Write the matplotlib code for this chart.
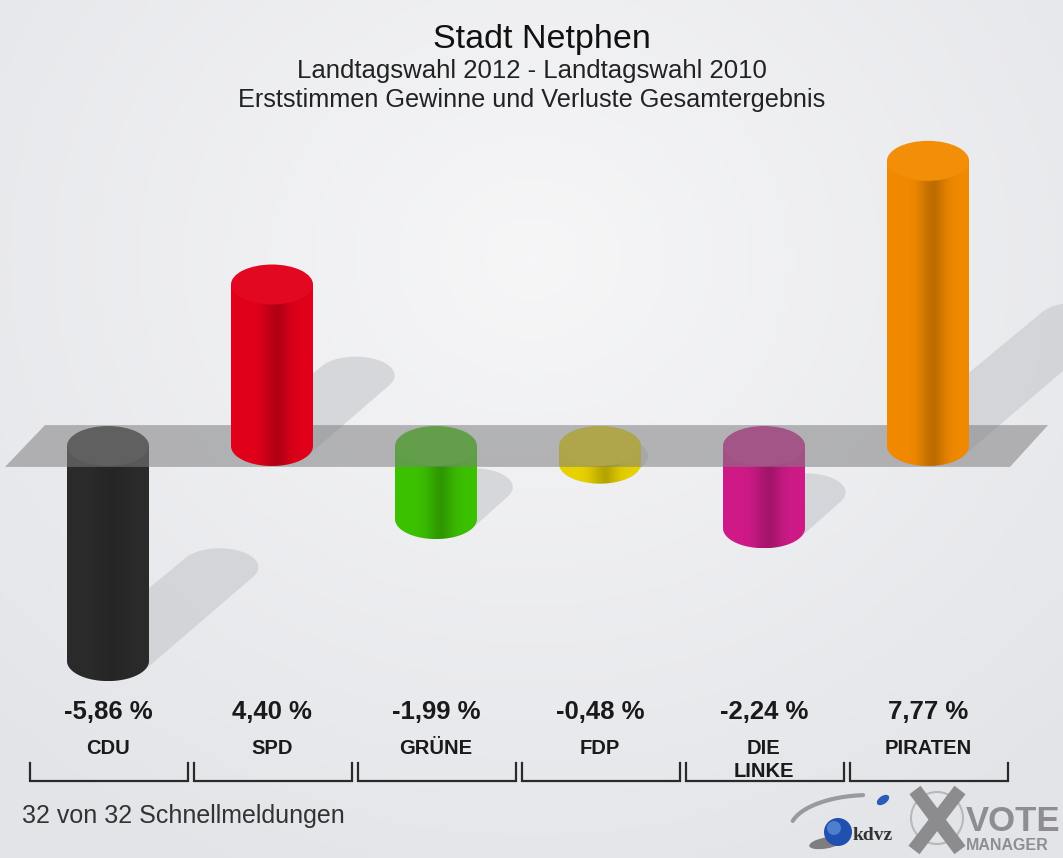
import numpy as np
import matplotlib
matplotlib.use("Agg")
import matplotlib.pyplot as plt
from matplotlib.path import Path
from matplotlib.patches import PathPatch, Ellipse, Polygon, Circle

plt.rcParams['font.family'] = ['Liberation Sans', 'DejaVu Sans']

# --- data ---
parties = ['CDU', 'SPD', 'GRÜNE', 'FDP', 'DIE\nLINKE', 'PIRATEN']
changes = [-5.86, 4.40, -1.99, -0.48, -2.24, 7.77]
colors = ['#2b2b2b', '#e2001a', '#3cc200', '#e8d200', '#cf1a88', '#f28a00']
title = 'Stadt Netphen'
subtitle1 = 'Landtagswahl 2012 - Landtagswahl 2010'
subtitle2 = 'Erststimmen Gewinne und Verluste Gesamtergebnis'
footer = '32 von 32 Schnellmeldungen'

W, H = 1063, 858
fig = plt.figure(figsize=(W / 100, H / 100), dpi=100)

# background gradient
bg = fig.add_axes([0, 0, 1, 1], zorder=-1)
yy, xx = np.mgrid[0:1:200j, 0:1:250j]
d = np.sqrt(((xx - 0.5) * 1.1) ** 2 + ((yy - 0.3) * 1.0) ** 2)
d = np.clip(d / 0.8, 0, 1)
c0 = np.array([0.965, 0.965, 0.97])
c1 = np.array([0.89, 0.895, 0.91])
img = c0[None, None, :] * (1 - d[..., None]) + c1[None, None, :] * d[..., None]
bg.imshow(img, extent=[0, 1, 0, 1], aspect='auto', origin='upper')
bg.axis('off')

ax = fig.add_axes([0, 0, 1, 1])
ax.set_facecolor('none')
ax.axis('off')

r = 0.25      # cylinder radius (category units)
b = 0.545     # ellipse half height (percent units)
sdx, sdy = 0.116, 0.436   # shadow direction per percent


def hull(pts):
    pts = sorted(map(tuple, pts))
    def cross(o, a, c):
        return (a[0] - o[0]) * (c[1] - o[1]) - (a[1] - o[1]) * (c[0] - o[0])
    lower, upper = [], []
    for p in pts:
        while len(lower) >= 2 and cross(lower[-2], lower[-1], p) <= 0:
            lower.pop()
        lower.append(p)
    for p in reversed(pts):
        while len(upper) >= 2 and cross(upper[-2], upper[-1], p) <= 0:
            upper.pop()
        upper.append(p)
    return lower[:-1] + upper[:-1]


def shade(col, n=200):
    rgb = np.array(matplotlib.colors.to_rgb(col))
    t = np.linspace(0, 1, n)
    f = 1 - 0.20 * np.exp(-((t - 0.55) / 0.16) ** 2) - 0.05 * (t > 0.55) * (1 - t)
    if col == '#2b2b2b':
        f = 1 - 0.12 * np.exp(-((t - 0.55) / 0.2) ** 2)
    arr = np.clip(rgb[None, :] * f[:, None], 0, 1)
    return arr[None, :, :]


tt = np.linspace(0, 2 * np.pi, 80)
for i, (v, col) in enumerate(zip(changes, colors)):
    low, high = min(0, v), max(0, v)
    # shadow
    sx, sy = i, low if v < 0 else 0
    ex, ey = i + abs(v) * sdx, sy + abs(v) * sdy
    pts = np.concatenate([
        np.c_[sx + r * np.cos(tt), sy + b * np.sin(tt)],
        np.c_[ex + r * 0.95 * np.cos(tt), ey + b * 0.95 * np.sin(tt)]])
    ax.add_patch(Polygon(hull(pts), closed=True, facecolor='#c5c7cc',
                         edgecolor='none', alpha=0.6, zorder=1))

    z = 2 if v < 0 else 4
    # body: rectangle plus lower half ellipse
    ang = np.linspace(np.pi, 2 * np.pi, 60)
    verts = [(i - r, high), (i - r, low)]
    verts += list(zip(i + r * np.cos(ang), low + b * np.sin(ang)))
    verts += [(i + r, low), (i + r, high), (i - r, high)]
    body = Path(verts, closed=True)
    clip = PathPatch(body, transform=ax.transData)
    im = ax.imshow(shade(col), extent=[i - r, i + r, low - b, high],
                   aspect='auto', zorder=z, interpolation='bilinear')
    im.set_clip_path(clip)
    top = matplotlib.colors.to_rgb(col)
    top = tuple(min(1, c * 0.97 + 0.03) for c in top)
    if col == '#2b2b2b':
        top = '#3a3a3a'
    ax.add_patch(Ellipse((i, high), 2 * r, 2 * b, facecolor=top,
                         edgecolor='none', zorder=z + 0.1))

# zero plane
ax.add_patch(Polygon([(-0.384, 0.57), (5.732, 0.57), (5.50, -0.57), (-0.628, -0.57)],
                     closed=True, facecolor='#808083', edgecolor='none',
                     alpha=0.55, zorder=3))

ax.set_xlim(-108 / 164, (W - 108) / 164)
ax.set_ylim((446 - H) / 36.7, 446 / 36.7)

# labels and brackets
tr = matplotlib.transforms.blended_transform_factory(ax.transData, ax.transAxes)
for i, (p, v) in enumerate(zip(parties, changes)):
    lab = f"{v:.2f}".replace('.', ',') + ' %'
    ax.text(i, 1 - 719 / H, lab, transform=tr, ha='center', va='baseline',
            fontsize=18.5, fontweight='bold', color='#1a1a1a')
    nl = p.count('\n')
    ax.text(i, 1 - (754 + 23 * nl) / H, p, transform=tr, ha='center', va='baseline',
            fontsize=14.5, fontweight='bold', color='#1a1a1a', linespacing=1.25)
    xl, xr = i - 0.475, i + 0.487
    ax.plot([xl, xl, xr, xr], [1 - 763 / H, 1 - 781 / H, 1 - 781 / H, 1 - 763 / H],
            transform=tr, color='#2a2a2a', lw=1.6, solid_joinstyle='miter')

fig.text(0.51, 1 - 48 / H, title, ha='center', va='baseline', fontsize=24.5, color='#111')
fig.text(0.5, 1 - 78 / H, subtitle1, ha='center', va='baseline', fontsize=18.5, color='#222')
fig.text(0.5, 1 - 107 / H, subtitle2, ha='center', va='baseline', fontsize=18.2, color='#222')
fig.text(22 / W, 1 - 823 / H, footer, ha='left', va='baseline', fontsize=18, color='#333')

# logo
lx = fig.add_axes([0, 0, 1, 1])
lx.set_xlim(0, W)
lx.set_ylim(H, 0)
lx.axis('off')
a = np.linspace(np.radians(195), np.radians(265), 50)
lx.plot(870 + 80 * np.cos(a), 830 + 35 * np.sin(a), color='#9a9a9e', lw=3, solid_capstyle='round')
lx.add_patch(Ellipse((826, 843), 34, 11, angle=-10, facecolor='#3a3a3a', alpha=0.6, edgecolor='none'))
lx.add_patch(Circle((838, 832), 14, facecolor='#2050b0', edgecolor='none'))
lx.add_patch(Circle((834, 828), 7, facecolor='#5b8ad8', edgecolor='none', alpha=0.8))
lx.add_patch(Ellipse((883, 800), 14, 8, angle=-35, facecolor='#2a5cb8', edgecolor='none'))
lx.text(853, 840, 'kdvz', fontsize=14, fontweight='bold', family='Liberation Serif', color='#333')
lx.add_patch(Circle((937, 818), 26, facecolor='none', edgecolor='#b8b8bb', lw=1.5))
lx.plot([915, 960], [790, 850], color='#8c8c8e', lw=10, solid_capstyle='butt')
lx.plot([960, 914], [790, 850], color='#8c8c8e', lw=10, solid_capstyle='butt')
lx.text(966, 831, 'VOTE', fontsize=25, fontweight='bold', color='#8e8e92')
lx.text(966, 850, 'MANAGER', fontsize=11.5, fontweight='bold', color='#8e8e92')

fig.savefig('out.png', dpi=100)
